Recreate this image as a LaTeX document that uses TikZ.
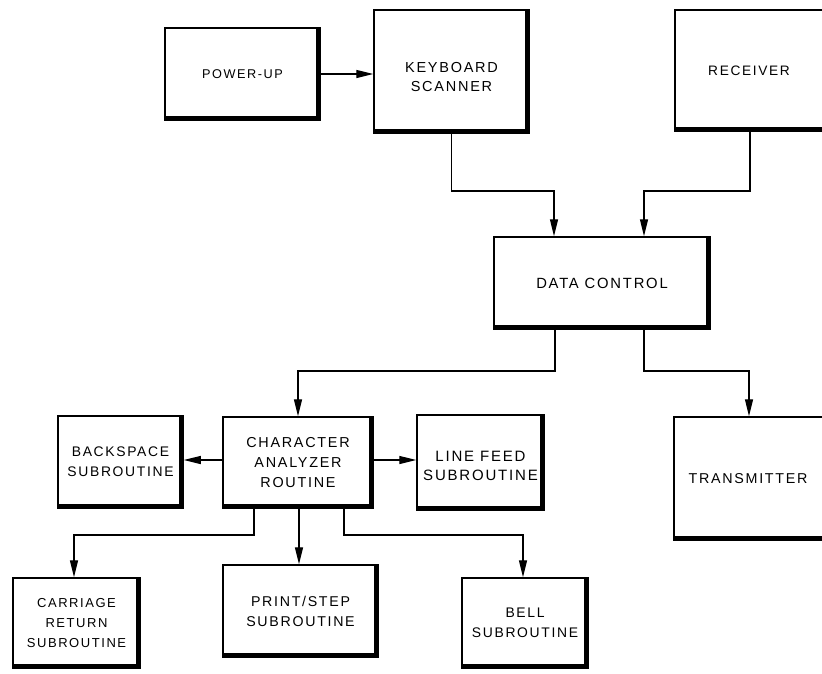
\documentclass[tikz,border=0pt]{standalone}
\usepackage{fontspec}
\setmainfont{Liberation Sans}[LetterSpace=12]
\usetikzlibrary{arrows.meta}

\begin{document}
\begin{tikzpicture}[x=1pt,y=-1pt,
  blk/.style={draw, line width=1.5pt, inner sep=0pt, align=center,
    font=\fontsize{#1}{20}\selectfont},
  blk/.default=13,
  txt/.style={inner sep=0pt, align=center, font=\fontsize{#1}{19}\selectfont},
  link/.style={line width=1.3pt},
  flow/.style={link, -{Triangle[length=17pt,width=8pt]}},
  heavy/.style={line width=4.4pt, line join=round}]

\useasboundingbox (0,0) rectangle (822,673);

% blocks
\node[blk=12.7, minimum width=155, minimum height=92]  (pu) at (242.5,74)   {POWER-UP};
\node[blk, minimum width=155, minimum height=123,
      label={[txt=14.5, yshift=-6pt]center:KEYBOARD\\SCANNER}] (kb) at (451.5,71.5) {};
\node[blk, minimum width=156, minimum height=121,
      label={[txt=13.7, xshift=-4pt]center:RECEIVER}] (rx) at (753,70.5) {};
\node[blk=14.8, minimum width=216, minimum height=92]  (dc) at (602,283)    {DATA CONTROL};
\node[blk=14.4, minimum width=150, minimum height=91]  (ca) at (298,462.5)  {CHARACTER\\ANALYZER\\ROUTINE};
\node[blk=13.9, minimum width=125, minimum height=92]  (bs) at (120.5,462)  {BACKSPACE\\SUBROUTINE};
\node[blk, minimum width=127, minimum height=95,
      label={[txt=15, yshift=-3pt]center:LINE FEED\\SUBROUTINE}] (lf) at (480.5,462.5) {};
\node[blk, minimum width=158, minimum height=123,
      label={[txt=14.3, xshift=-5pt]center:TRANSMITTER}] (tx) at (753,478.5) {};
\node[blk=13, minimum width=127, minimum height=90]    (cr) at (76.5,623)   {CARRIAGE\\RETURN\\SUBROUTINE};
\node[blk=14.2, minimum width=155, minimum height=92]  (ps) at (300.5,611)  {PRINT/STEP\\SUBROUTINE};
\node[blk=13.9, minimum width=126, minimum height=90]  (bl) at (525,623)    {BELL\\SUBROUTINE};

% heavy right and bottom edges of every block
\foreach \n in {pu,kb,rx,dc,ca,bs,lf,tx,cr,ps,bl}
  \draw[heavy] ([xshift=-2.2pt]\n.north east)
     -- ([xshift=-2.2pt,yshift=2.2pt]\n.south east)
     -- ([yshift=2.2pt]\n.south west);

% connectors
\draw[flow] (pu.east) -- (kb.west |- pu.east);
\draw[flow] (kb.south) -- (kb.south |- 0,191) -| (554,0 |- dc.north);
\draw[flow] (750,0 |- rx.south) -- (750,191) -| (644,0 |- dc.north);
\draw[flow] (555,0 |- dc.south) -- (555,371) -| (ca.north);
\draw[flow] (644,0 |- dc.south) -- (644,371) -| (749,0 |- tx.north);
\draw[flow] (ca.west |- 0,460) -- (bs.east |- 0,460);
\draw[flow] (ca.east |- 0,460) -- (lf.west |- 0,460);
\draw[flow] (254,0 |- ca.south) -- (254,535) -| (74,0 |- cr.north);
\draw[flow] (299,0 |- ca.south) -- (299,0 |- ps.north);
\draw[flow] (344,0 |- ca.south) -- (344,535) -| (523,0 |- bl.north);

\end{tikzpicture}
\end{document}
